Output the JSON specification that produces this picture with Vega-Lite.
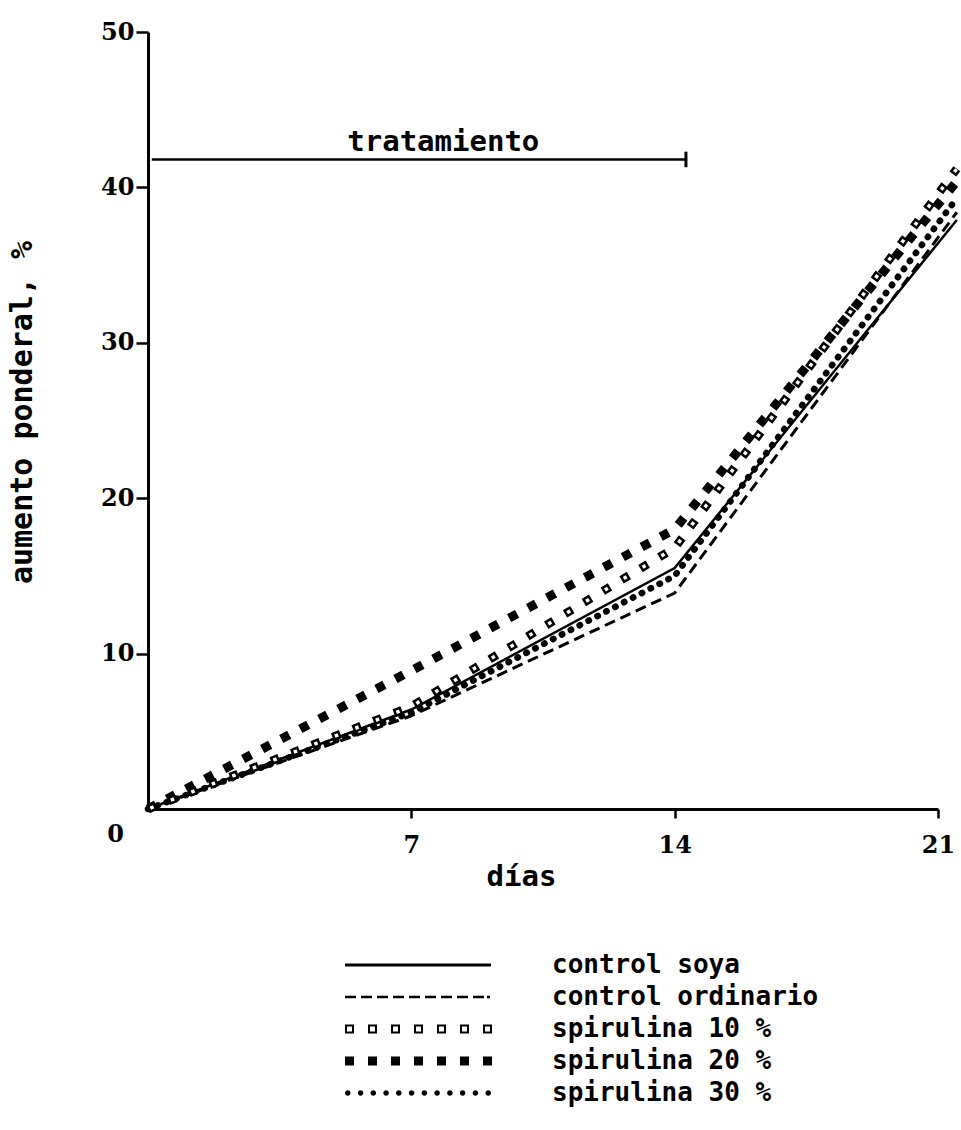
{
  "$schema": "https://vega.github.io/schema/vega-lite/v6.json",
  "autosize": {"type": "none"},
  "padding": {"left": 148, "top": 32, "right": 23, "bottom": 321},
  "width": 790,
  "height": 777,
  "background": "white",
  "config": {"view": {"stroke": null}},
  "data": {
    "values": [
      {"serie": "control soya", "dia": 0, "aumento": 0},
      {"serie": "control soya", "dia": 7, "aumento": 6.4},
      {"serie": "control soya", "dia": 14, "aumento": 15.5},
      {"serie": "control soya", "dia": 21.5, "aumento": 37.9},
      {"serie": "control ordinario", "dia": 0, "aumento": 0},
      {"serie": "control ordinario", "dia": 7, "aumento": 6.0},
      {"serie": "control ordinario", "dia": 14, "aumento": 13.9},
      {"serie": "control ordinario", "dia": 21.5, "aumento": 38.4},
      {"serie": "spirulina 10 %", "dia": 0, "aumento": 0},
      {"serie": "spirulina 10 %", "dia": 7, "aumento": 6.6},
      {"serie": "spirulina 10 %", "dia": 14, "aumento": 16.8},
      {"serie": "spirulina 10 %", "dia": 21.5, "aumento": 41.2},
      {"serie": "spirulina 20 %", "dia": 0, "aumento": 0},
      {"serie": "spirulina 20 %", "dia": 7, "aumento": 8.9},
      {"serie": "spirulina 20 %", "dia": 14, "aumento": 18.0},
      {"serie": "spirulina 20 %", "dia": 21.5, "aumento": 40.4},
      {"serie": "spirulina 30 %", "dia": 0, "aumento": 0},
      {"serie": "spirulina 30 %", "dia": 7, "aumento": 6.2},
      {"serie": "spirulina 30 %", "dia": 14, "aumento": 15.0},
      {"serie": "spirulina 30 %", "dia": 21.5, "aumento": 39.3}
    ]
  },
  "encoding": {
    "x": {
      "field": "dia", "type": "quantitative",
      "scale": {"domain": [0, 21], "nice": false, "zero": false},
      "axis": {
        "title": "días",
        "values": [0, 7, 14, 21],
        "grid": false,
        "domainColor": "black", "domainWidth": 3,
        "tickColor": "black", "tickWidth": 2.5, "tickSize": 9,
        "tickOpacity": {"condition": {"test": "datum.value === 0", "value": 0}, "value": 1},
        "labelFont": "DejaVu Serif", "labelFontWeight": "bold", "labelFontSize": 24, "labelColor": "black",
        "labelOffset": {"condition": {"test": "datum.value === 0", "value": -33}, "value": 0},
        "labelPadding": {"condition": {"test": "datum.value === 0", "value": 4}, "value": 15},
        "labelFlush": false, "labelOverlap": false,
        "titleFont": "DejaVu Sans Mono", "titleFontWeight": "bold", "titleFontSize": 29, "titleColor": "black",
        "titleX": 373, "titleY": 67, "titleBaseline": "middle", "titleAlign": "center"
      }
    },
    "y": {
      "field": "aumento", "type": "quantitative",
      "scale": {"domain": [0, 50], "nice": false},
      "axis": {
        "title": "aumento ponderal, %",
        "values": [10, 20, 30, 40, 50],
        "grid": false,
        "domainColor": "black", "domainWidth": 3,
        "tickColor": "black", "tickWidth": 2.5, "tickSize": 12,
        "labelFont": "DejaVu Serif", "labelFontWeight": "bold", "labelFontSize": 24, "labelColor": "black",
        "labelPadding": 2,
        "titleFont": "DejaVu Sans Mono", "titleFontWeight": "bold", "titleFontSize": 30, "titleColor": "black",
        "titleX": -126, "titleY": 380, "titleAngle": -90, "titleBaseline": "middle", "titleAlign": "center"
      }
    }
  },
  "layer": [
    {
      "transform": [{"filter": "datum.serie === 'control soya'"}],
      "mark": {"type": "line", "strokeWidth": 2.5},
      "encoding": {
        "color": {
          "field": "serie", "type": "nominal",
          "scale": {
            "domain": ["control soya", "control ordinario", "spirulina 10 %", "spirulina 20 %", "spirulina 30 %"],
            "range": ["black", "black", "black", "black", "black"]
          },
          "legend": {
            "orient": "none", "legendX": 194, "legendY": 920,
            "title": null, "direction": "vertical", "padding": 0,
            "symbolSize": 400, "symbolStrokeWidth": 0,
            "labelFont": "DejaVu Sans Mono", "labelFontWeight": "bold", "labelFontSize": 26, "labelColor": "black",
            "labelOffset": 184, "labelLimit": 600, "rowPadding": 6,
            "encode": {
              "symbols": {
                "update": {
                  "shape": {"signal": "datum.value === 'control soya' ? 'M-1,-0.15H13.6V0.15H-1Z' : datum.value === 'control ordinario' ? 'M-1,-0.13h1.1v0.26h-1.1ZM0.6,-0.13h1.1v0.26h-1.1ZM2.2,-0.13h1.1v0.26h-1.1ZM3.8,-0.13h1.1v0.26h-1.1ZM5.4,-0.13h1.1v0.26h-1.1ZM7,-0.13h1.1v0.26h-1.1ZM8.6,-0.13h1.1v0.26h-1.1ZM10.2,-0.13h1.1v0.26h-1.1ZM11.8,-0.13h1.1v0.26h-1.1ZM13.2,-0.13h0.3v0.26h-0.3Z' : datum.value === 'spirulina 10 %' ? 'M-1,-0.45h0.9v0.9h-0.9ZM-0.8,-0.25v0.5h0.5v-0.5ZM1.3,-0.45h0.9v0.9h-0.9ZM1.5,-0.25v0.5h0.5v-0.5ZM3.6,-0.45h0.9v0.9h-0.9ZM3.8,-0.25v0.5h0.5v-0.5ZM5.9,-0.45h0.9v0.9h-0.9ZM6.1,-0.25v0.5h0.5v-0.5ZM8.2,-0.45h0.9v0.9h-0.9ZM8.4,-0.25v0.5h0.5v-0.5ZM10.5,-0.45h0.9v0.9h-0.9ZM10.7,-0.25v0.5h0.5v-0.5ZM12.8,-0.45h0.9v0.9h-0.9ZM13,-0.25v0.5h0.5v-0.5Z' : datum.value === 'spirulina 20 %' ? 'M-1,-0.45h0.9v0.9h-0.9ZM1.3,-0.45h0.9v0.9h-0.9ZM3.6,-0.45h0.9v0.9h-0.9ZM5.9,-0.45h0.9v0.9h-0.9ZM8.2,-0.45h0.9v0.9h-0.9ZM10.5,-0.45h0.9v0.9h-0.9ZM12.8,-0.45h0.9v0.9h-0.9Z' : 'M-1,0a0.28,0.28 0 1,0 0.56,0a0.28,0.28 0 1,0 -0.56,0M0.28,0a0.28,0.28 0 1,0 0.56,0a0.28,0.28 0 1,0 -0.56,0M1.55,0a0.28,0.28 0 1,0 0.56,0a0.28,0.28 0 1,0 -0.56,0M2.83,0a0.28,0.28 0 1,0 0.56,0a0.28,0.28 0 1,0 -0.56,0M4.1,0a0.28,0.28 0 1,0 0.56,0a0.28,0.28 0 1,0 -0.56,0M5.38,0a0.28,0.28 0 1,0 0.56,0a0.28,0.28 0 1,0 -0.56,0M6.66,0a0.28,0.28 0 1,0 0.56,0a0.28,0.28 0 1,0 -0.56,0M7.93,0a0.28,0.28 0 1,0 0.56,0a0.28,0.28 0 1,0 -0.56,0M9.21,0a0.28,0.28 0 1,0 0.56,0a0.28,0.28 0 1,0 -0.56,0M10.48,0a0.28,0.28 0 1,0 0.56,0a0.28,0.28 0 1,0 -0.56,0M11.76,0a0.28,0.28 0 1,0 0.56,0a0.28,0.28 0 1,0 -0.56,0M13.04,0a0.28,0.28 0 1,0 0.56,0a0.28,0.28 0 1,0 -0.56,0'"},
                  "fill": {"value": "black"},
                  "stroke": {"value": "transparent"},
                  "strokeWidth": {"value": 0},
                  "opacity": {"value": 1}
                }
              }
            }
          }
        }
      }
    },
    {
      "transform": [{"filter": "datum.serie === 'control ordinario'"}],
      "mark": {"type": "line", "color": "black", "strokeWidth": 3, "strokeDash": [11, 6]},
      "encoding": {}
    },
    {
      "transform": [{"filter": "datum.serie === 'spirulina 30 %'"}],
      "mark": {"type": "line", "color": "black", "strokeWidth": 6.5, "strokeCap": "round", "strokeDash": [0.5, 9.5]},
      "encoding": {}
    },
    {
      "transform": [{"filter": "datum.serie === 'spirulina 20 %'"}],
      "mark": {"type": "line", "color": "black", "strokeWidth": 9, "strokeDash": [9, 12.5]},
      "encoding": {}
    },
    {
      "transform": [{"filter": "datum.serie === 'spirulina 10 %'"}],
      "mark": {"type": "line", "color": "black", "strokeWidth": 8.5, "strokeDash": [8.5, 13.5]},
      "encoding": {}
    },
    {
      "transform": [{"filter": "datum.serie === 'spirulina 10 %'"}],
      "mark": {"type": "line", "color": "white", "strokeWidth": 3.5, "strokeDash": [3.5, 18.5], "strokeDashOffset": -2.5},
      "encoding": {}
    },
    {
      "data": {"values": [{"dia": 0.1, "dia2": 14.3, "aumento": 41.8}]},
      "mark": {"type": "rule", "color": "black", "strokeWidth": 2.5},
      "encoding": {"x2": {"field": "dia2"}}
    },
    {
      "data": {"values": [{"dia": 14.3, "aumento": 41.3, "aumento2": 42.3}]},
      "mark": {"type": "rule", "color": "black", "strokeWidth": 3},
      "encoding": {"y2": {"field": "aumento2"}}
    },
    {
      "data": {"values": [{"dia": 7.85, "aumento": 42.9, "texto": "tratamiento"}]},
      "mark": {"type": "text", "color": "black", "font": "DejaVu Sans Mono", "fontWeight": "bold", "fontSize": 29, "align": "center", "baseline": "middle"},
      "encoding": {"text": {"field": "texto"}}
    }
  ]
}
